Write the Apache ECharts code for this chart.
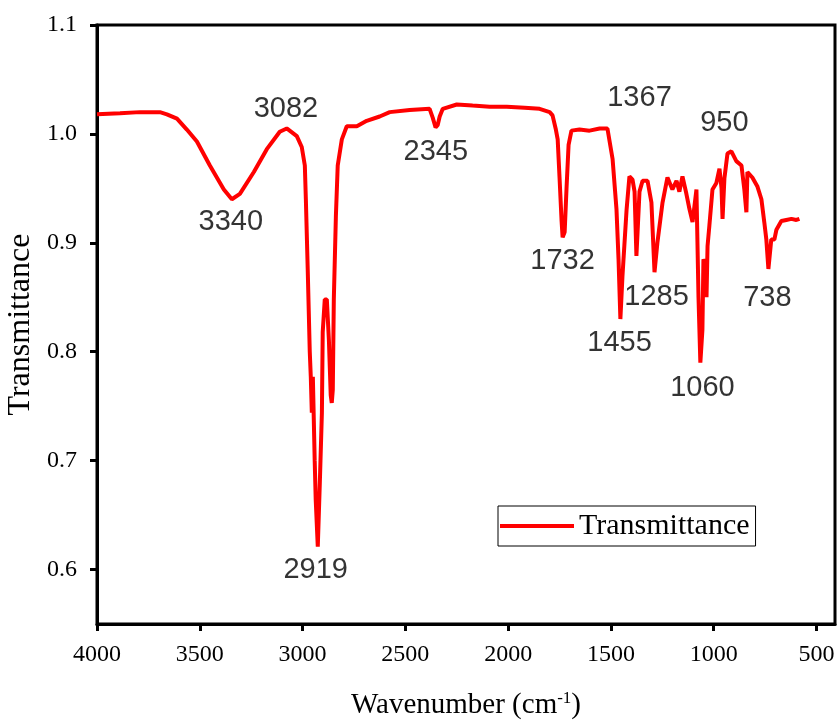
<!DOCTYPE html>
<html>
<head>
<meta charset="utf-8">
<script src="https://cdn.jsdelivr.net/npm/echarts@6/dist/echarts.min.js"></script>
<style>
  html, body { margin: 0; padding: 0; background: #fff; }
  #chart { width: 838px; height: 720px; }
</style>
</head>
<body>
<div id="chart"></div>
<script>
// wavenumber (cm-1) and transmittance
var wavenumber = [4000, 3888, 3791, 3694, 3660, 3611, 3563, 3514, 3451, 3383, 3344, 3305, 3237, 3174, 3111, 3077,
    3028, 3004, 2989, 2984, 2975, 2965, 2960, 2955, 2950, 2941, 2936, 2926, 2916, 2906, 2902, 2892, 2882, 2872,
    2863, 2858, 2853, 2848, 2838, 2829, 2809, 2785, 2736, 2688, 2625, 2576, 2479, 2382, 2367, 2353, 2343, 2333,
    2318, 2250, 2173, 2090, 2007, 1920, 1847, 1798, 1784, 1769, 1759, 1750, 1740, 1735, 1725, 1716, 1706, 1692,
    1653, 1604, 1555, 1517, 1492, 1473, 1463, 1454, 1444, 1424, 1410, 1395, 1385, 1376, 1361, 1346, 1322, 1303,
    1288, 1274, 1249, 1225, 1201, 1181, 1167, 1152, 1133, 1118, 1103, 1084, 1074, 1065, 1055, 1050, 1040, 1035,
    1030, 1021, 1006, 987, 972, 962, 957, 948, 933, 914, 890, 865, 851, 841, 836, 812, 788, 768, 754, 744, 734,
    720, 705, 695, 671, 647, 622, 598, 583];
var transmittance = [1.018, 1.019, 1.020, 1.020, 1.018, 1.014, 1.004, 0.993, 0.971, 0.949, 0.940, 0.945, 0.965, 0.986, 1.002, 1.005,
    0.998, 0.988, 0.971, 0.940, 0.876, 0.800, 0.777, 0.744, 0.777, 0.700, 0.664, 0.621, 0.680, 0.744, 0.818, 0.848, 0.848, 0.811,
    0.760, 0.753, 0.765, 0.848, 0.924, 0.971, 0.995, 1.007, 1.007, 1.012, 1.016, 1.020, 1.022, 1.023, 1.015, 1.006, 1.008, 1.016,
    1.023, 1.027, 1.026, 1.025, 1.025, 1.024, 1.023, 1.020, 1.017, 1.005, 0.995, 0.960, 0.920, 0.905, 0.910, 0.950, 0.990, 1.003,
    1.004, 1.003, 1.005, 1.005, 0.977, 0.931, 0.885, 0.830, 0.869, 0.930, 0.961, 0.958, 0.947, 0.888, 0.947, 0.957, 0.957, 0.937,
    0.873, 0.900, 0.937, 0.960, 0.949, 0.957, 0.947, 0.961, 0.945, 0.931, 0.919, 0.949, 0.850, 0.790, 0.820, 0.885, 0.880, 0.850,
    0.897, 0.916, 0.949, 0.955, 0.968, 0.950, 0.922, 0.959, 0.982, 0.984, 0.975, 0.971, 0.949, 0.928, 0.965, 0.960, 0.952, 0.940, 0.919, 0.903, 0.876,
    0.903, 0.903, 0.912, 0.920, 0.921, 0.922, 0.921, 0.922];

// peak labels and where their text sits (data coords)
var peakNames = ['3082', '3340', '2919', '2345', '1732', '1367', '950', '1285', '1455', '1060', '738'];
var peakX = [3081, 3349, 2936, 2352, 1735, 1361, 948, 1278, 1458, 1055, 739];
var peakY = [1.023, 0.919, 0.600, 0.983, 0.883, 1.033, 1.010, 0.850, 0.808, 0.767, 0.849];

var xTicks = [500, 1000, 1500, 2000, 2500, 3000, 3500, 4000];
var yTicks = [0.6, 0.7, 0.8, 0.9, 1.0, 1.1];

var lineData = [];
for (var i = 0; i < wavenumber.length; i++) {
    lineData.push([wavenumber[i], transmittance[i]]);
}
var peakData = [];
for (var j = 0; j < peakNames.length; j++) {
    peakData.push({ name: peakNames[j], value: [peakX[j], peakY[j]] });
}

var serif = '"Liberation Serif", "Times New Roman", serif';

var chart = echarts.init(document.getElementById('chart'));
var option = {
    backgroundColor: '#fff',
    animation: false,
    grid: {
        left: 97, right: 3, top: 25, bottom: 96,
        outerBoundsMode: 'none',
        containLabel: false,
        show: true,
        borderColor: '#000',
        borderWidth: 3
    },
    legend: {
        data: [{ name: 'Transmittance', icon: 'rect' }],
        left: 498,
        top: 506,
        orient: 'horizontal',
        borderColor: '#000',
        borderWidth: 1,
        padding: [5, 6, 5, 2],
        itemWidth: 74,
        itemHeight: 4,
        itemGap: 4,
        textStyle: { fontFamily: serif, fontSize: 30, color: '#000' }
    },
    xAxis: {
        type: 'value',
        inverse: true,
        min: 410,
        max: 4000,
        name: 'Wavenumber (cm{sup|-1})',
        nameLocation: 'middle',
        nameGap: 66,
        nameTextStyle: {
            fontFamily: serif, fontSize: 29, color: '#000',
            rich: { sup: { fontFamily: serif, fontSize: 17, verticalAlign: 'top', padding: [0, 0, 14, 0], color: '#000' } }
        },
        axisLine: { lineStyle: { color: '#000', width: 3 } },
        axisTick: { show: true, length: 7, lineStyle: { color: '#000', width: 3 }, customValues: xTicks },
        axisLabel: {
            fontFamily: serif, fontSize: 24, color: '#000', margin: 19, customValues: xTicks,
            formatter: function (v) { return String(v); }
        },
        splitLine: { show: false }
    },
    yAxis: {
        type: 'value',
        min: 0.55,
        max: 1.1,
        name: 'Transmittance',
        nameLocation: 'middle',
        nameGap: 60,
        nameTextStyle: { fontFamily: serif, fontSize: 32, color: '#000' },
        axisLine: { lineStyle: { color: '#000', width: 3 } },
        axisTick: { show: true, length: 7, lineStyle: { color: '#000', width: 3 }, customValues: yTicks },
        axisLabel: {
            fontFamily: serif, fontSize: 24, color: '#000', margin: 20, customValues: yTicks,
            formatter: function (v) { return v.toFixed(1); }
        },
        splitLine: { show: false }
    },
    series: [
        {
            name: 'Transmittance',
            type: 'line',
            data: lineData,
            symbol: 'none',
            lineStyle: { color: '#ff0000', width: 4 },
            itemStyle: { color: '#ff0000' }
        },
        {
            name: 'peaks',
            type: 'scatter',
            data: peakData,
            symbolSize: 0,
            silent: true,
            label: {
                show: true,
                position: 'inside',
                formatter: '{b}',
                fontFamily: '"Liberation Sans", Arial, sans-serif',
                fontSize: 29,
                color: '#000'
            }
        }
    ]
};
chart.setOption(option);
</script>
</body>
</html>
